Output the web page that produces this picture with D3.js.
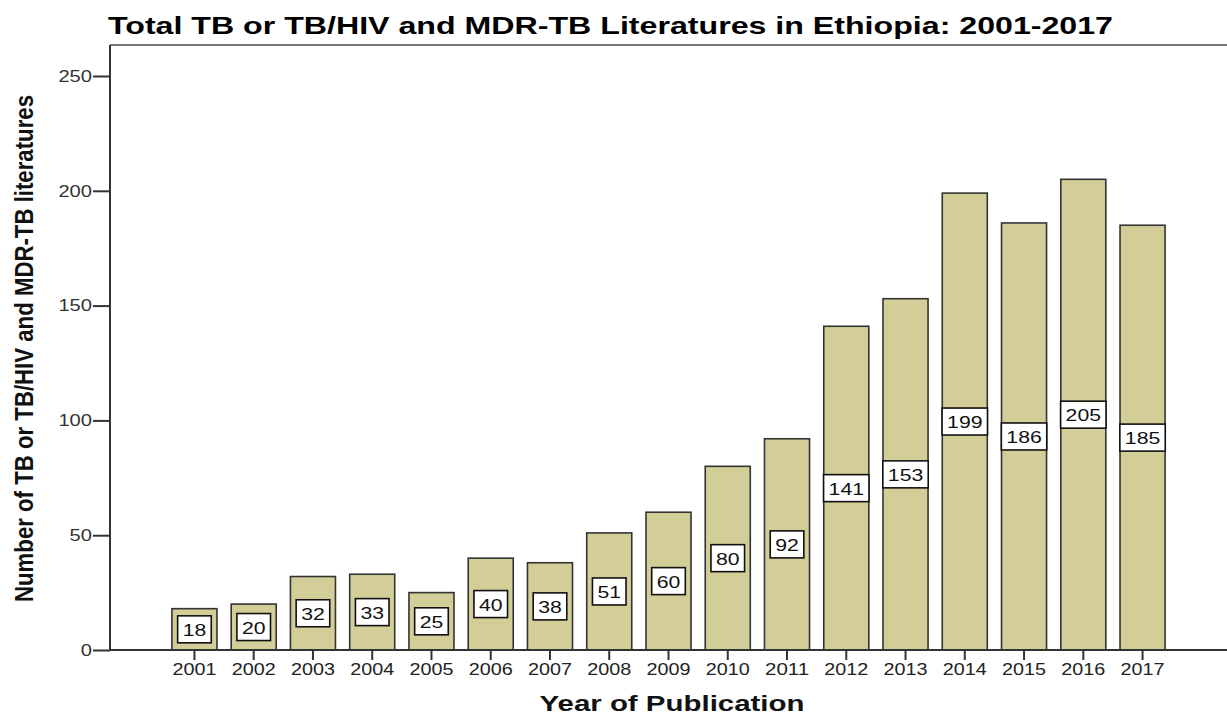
<!DOCTYPE html>
<html><head><meta charset="utf-8">
<script src="https://cdn.jsdelivr.net/npm/d3@7"></script>
<style>body{margin:0;background:#fff;} svg{display:block;font-family:"Liberation Sans",Arial,sans-serif;}</style>
</head><body>
<svg id="c" width="1227" height="716"></svg>
<script>
const years = ["2001","2002","2003","2004","2005","2006","2007","2008","2009","2010","2011","2012","2013","2014","2015","2016","2017"];
const counts = [18,20,32,33,25,40,38,51,60,80,92,141,153,199,186,205,185];
const yTicks = [0,50,100,150,200,250];
const title = "Total TB or TB/HIV and MDR-TB Literatures in Ethiopia: 2001-2017";
const xTitle = "Year of Publication";
const yTitle = "Number of TB or TB/HIV and MDR-TB literatures";

(function () {
const svg = d3.select("#c");
const pL = 110, pR = 1227, pT = 45, pB = 650;
const x = d3.scaleBand().domain(years).range([pL, pR]).paddingInner(0.24).paddingOuter(1.045);
const y = d3.scaleLinear().domain([0, 250]).range([pB, 76]);

// title
svg.append("text").attr("x", 108).attr("y", 34).attr("font-size", 24).attr("font-weight", "bold")
  .attr("fill", "#000").attr("textLength", 1005).attr("lengthAdjust", "spacingAndGlyphs").text(title);

// top frame line
svg.append("line").attr("x1", pL).attr("x2", pR).attr("y1", pT).attr("y2", pT)
  .attr("stroke", "#777").attr("stroke-width", 2);

// bars
svg.append("g").selectAll("rect").data(counts).join("rect")
  .attr("x", (d, i) => x(years[i])).attr("y", d => y(d))
  .attr("width", x.bandwidth()).attr("height", d => pB - y(d))
  .attr("fill", "#d3ce98").attr("stroke", "#333").attr("stroke-width", 1.6);

// labels
const lg = svg.append("g").selectAll("g").data(counts).join("g")
  .attr("transform", (d, i) => `translate(${x(years[i]) + x.bandwidth() / 2},${y(d / 2)})`);
lg.append("rect").attr("x", d => -(String(d).length * 11.8 + 10) / 2).attr("y", -13.5)
  .attr("width", d => String(d).length * 11.8 + 10).attr("height", 27)
  .attr("fill", "#fff").attr("stroke", "#111").attr("stroke-width", 1.6);
lg.append("text").attr("text-anchor", "middle").attr("y", 6.5).attr("font-size", 17).attr("fill", "#111")
  .attr("textLength", d => String(d).length * 11.8).attr("lengthAdjust", "spacingAndGlyphs").text(d => d);

// y axis
const ya = svg.append("g").attr("transform", `translate(${pL},0)`)
  .call(d3.axisLeft(y).tickValues(yTicks).tickSize(17).tickPadding(1).tickSizeOuter(0));
ya.select(".domain").remove();
ya.append("line").attr("x1", 0).attr("x2", 0).attr("y1", pT).attr("y2", pB).attr("stroke", "#333").attr("stroke-width", 2);
ya.selectAll(".tick line").attr("stroke", "#333").attr("stroke-width", 2);
ya.selectAll(".tick text").attr("font-size", 16.5).attr("fill", "#333").attr("font-family", "Liberation Sans, Arial, sans-serif")
  .attr("textLength", function () { return this.textContent.length * 11.2; }).attr("lengthAdjust", "spacingAndGlyphs");

// x axis
const xa = svg.append("g").attr("transform", `translate(0,${pB})`)
  .call(d3.axisBottom(x).tickSize(10).tickPadding(3).tickSizeOuter(0));
xa.select(".domain").remove();
xa.append("line").attr("x1", pL).attr("x2", pR).attr("y1", 0).attr("y2", 0).attr("stroke", "#333").attr("stroke-width", 2);
xa.selectAll(".tick line").attr("stroke", "#333").attr("stroke-width", 2);
xa.selectAll(".tick text").attr("font-size", 16.5).attr("fill", "#222").attr("font-family", "Liberation Sans, Arial, sans-serif")
  .attr("textLength", 44).attr("lengthAdjust", "spacingAndGlyphs");

// axis titles
svg.append("text").attr("x", 672).attr("y", 711).attr("text-anchor", "middle").attr("font-size", 21.5)
  .attr("font-weight", "bold").attr("fill", "#111").attr("textLength", 265).attr("lengthAdjust", "spacingAndGlyphs").text(xTitle);
svg.append("text").attr("transform", "translate(33,348.5) rotate(-90)").attr("text-anchor", "middle")
  .attr("font-size", 25.5).attr("font-weight", "bold").attr("fill", "#111")
  .attr("textLength", 507).attr("lengthAdjust", "spacingAndGlyphs").text(yTitle);
})();
</script>
</body></html>
